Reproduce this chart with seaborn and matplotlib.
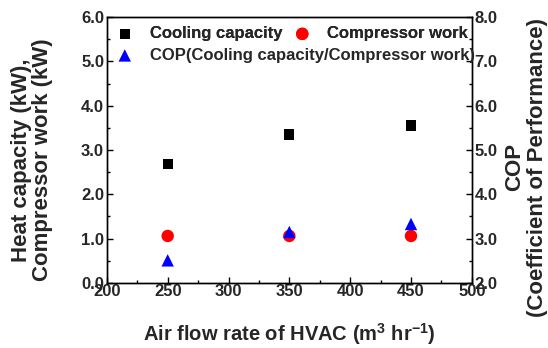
import matplotlib
matplotlib.use("Agg")
import matplotlib.pyplot as plt
import seaborn as sns
import pandas as pd
from matplotlib.ticker import MultipleLocator, FormatStrFormatter

airflow = [250, 350, 450]
cooling_capacity = [2.68, 3.35, 3.55]
compressor_work = [1.06, 1.06, 1.06]
cop = [2.51, 3.15, 3.33]

sns.set_theme(style="ticks")
plt.rcParams['font.family'] = ['Liberation Sans', 'DejaVu Sans']
plt.rcParams['font.weight'] = 'bold'
plt.rcParams['mathtext.fontset'] = 'custom'
plt.rcParams['mathtext.rm'] = 'Liberation Sans:bold'
plt.rcParams['mathtext.bf'] = 'Liberation Sans:bold'
plt.rcParams['mathtext.default'] = 'bf'

df = pd.DataFrame({"airflow": airflow, "cooling": cooling_capacity,
                   "work": compressor_work, "cop": cop})

fig = plt.figure(figsize=(5.48, 3.48), dpi=100)
ax = fig.add_axes([0.195, 0.187, 0.666, 0.764])
ax2 = ax.twinx()

sns.scatterplot(data=df, x="airflow", y="cooling", ax=ax, marker="s", color="black",
                s=55, edgecolor="none", label="Cooling capacity", legend=False)
sns.scatterplot(data=df, x="airflow", y="work", ax=ax, marker="o", color="red",
                s=80, edgecolor="none", label="Compressor work", legend=False)
sns.scatterplot(data=df, x="airflow", y="cop", ax=ax2, marker="^", color="blue",
                s=80, edgecolor="none", label="COP(Cooling capacity/Compressor work)", legend=False)

ax.set_xlim(200, 500)
ax.set_ylim(0, 6)
ax2.set_ylim(2, 8)
ax.xaxis.set_major_locator(MultipleLocator(50))
ax.xaxis.set_minor_locator(MultipleLocator(25))
ax.yaxis.set_major_locator(MultipleLocator(1))
ax.yaxis.set_minor_locator(MultipleLocator(0.5))
ax2.yaxis.set_major_locator(MultipleLocator(1))
ax2.yaxis.set_minor_locator(MultipleLocator(0.5))
ax.yaxis.set_major_formatter(FormatStrFormatter('%.1f'))
ax2.yaxis.set_major_formatter(FormatStrFormatter('%.1f'))

for a in (ax, ax2):
    a.tick_params(which='both', direction='in', labelsize=12, width=1, color='black')
    a.tick_params(which='major', length=4)
    a.tick_params(which='minor', length=2.5)
    for sp in a.spines.values():
        sp.set_visible(True)
        sp.set_linewidth(1)
        sp.set_color('black')
ax.tick_params(axis='x', pad=1)
ax.tick_params(axis='y', pad=2)
ax2.tick_params(axis='y', pad=2)

ax.set_xlabel(r"Air flow rate of HVAC (m$^{3}$ hr$^{-1}$)", fontsize=14.5, fontweight='bold', labelpad=16)
ax.set_ylabel("Heat capacity (kW),\nCompressor work (kW)", fontsize=16, fontweight='bold',
              linespacing=1.0, labelpad=20)
ax2.set_ylabel("COP\n(Coefficient of Performance)", fontsize=16, fontweight='bold',
               linespacing=1.1, labelpad=5)
ax.yaxis.label.set_y(0.462)
ax2.yaxis.label.set_y(0.435)

h1, l1 = ax.get_legend_handles_labels()
h2, l2 = ax2.get_legend_handles_labels()
leg1 = ax.legend(h1, l1, loc='upper left', ncol=2, frameon=False, fontsize=12,
                 bbox_to_anchor=(-0.024, 1.003), handletextpad=0.5, columnspacing=0.2,
                 borderaxespad=0.2)
ax.add_artist(leg1)
leg2 = ax2.legend(h2, l2, loc='upper left', frameon=False, fontsize=12,
                  bbox_to_anchor=(-0.024, 0.922), handletextpad=0.5, borderaxespad=0.2)

fig.savefig("out.png", dpi=100)
